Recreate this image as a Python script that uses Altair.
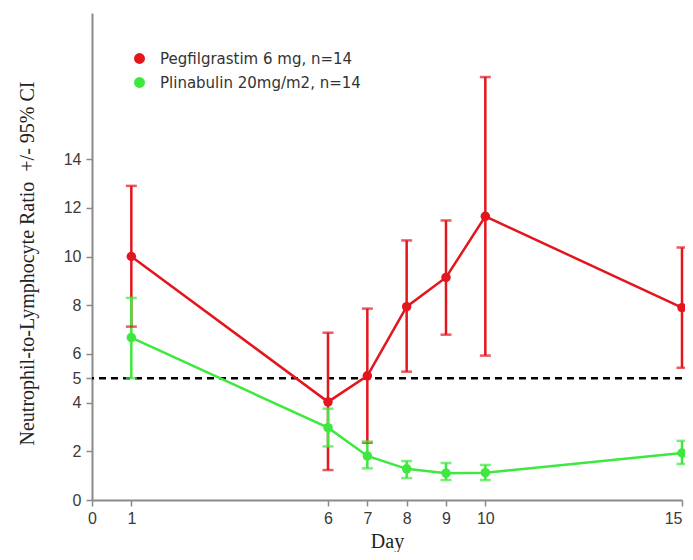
import altair as alt
import pandas as pd

days = [1, 6, 7, 8, 9, 10, 15]
groups = ["Pegfilgrastim 6 mg, n=14", "Plinabulin 20mg/m2, n=14"]
peg_mean = [10.0, 4.03, 5.1, 7.94, 9.14, 11.65, 7.9]
peg_lo = [7.12, 1.23, 2.35, 5.27, 6.79, 5.93, 5.43]
peg_hi = [12.9, 6.87, 7.86, 10.66, 11.48, 17.37, 10.37]
pli_mean = [6.67, 2.97, 1.81, 1.28, 1.1, 1.12, 1.93]
pli_lo = [5.0, 2.2, 1.3, 0.9, 0.82, 0.82, 1.48]
pli_hi = [8.3, 3.75, 2.4, 1.6, 1.52, 1.44, 2.43]
x_ticks = [0, 1, 6, 7, 8, 9, 10, 15]
y_ticks = [0, 2, 4, 5, 6, 8, 10, 12, 14]
threshold = 5
colors = ["#e3161e", "#3ee83e"]

rows = []
for g, m, lo, hi in [(groups[0], peg_mean, peg_lo, peg_hi), (groups[1], pli_mean, pli_lo, pli_hi)]:
    for d, a, b, c in zip(days, m, lo, hi):
        rows.append({"group": g, "day": d, "mean": a, "lo": b, "hi": c})
df = pd.DataFrame(rows)

xs = alt.Scale(domain=[0, 15], nice=False, zero=False)
ys = alt.Scale(domain=[0, 20], nice=False)
cs = alt.Scale(domain=groups, range=colors)

x_axis = alt.Axis(values=x_ticks, title="Day", grid=False, tickSize=6, labelPadding=4,
                  titlePadding=5,
                  labelAlign=alt.expr("datum.value == 15 ? 'right' : 'center'"))
y_axis = alt.Axis(values=y_ticks, title="Neutrophil-to-Lymphocyte Ratio\u00a0 +/- 95% CI",
                  grid=False, tickSize=6, labelPadding=5, titlePadding=26, titleY=250)

legend = alt.Legend(title=None, orient="none", legendX=40, legendY=38,
                    symbolType="circle", symbolSize=120, symbolStrokeWidth=0,
                    symbolOpacity=1, labelLimit=400,
                    labelFont="DejaVu Sans", labelFontSize=15,
                    labelColor="#333333", labelOffset=13, rowPadding=8, padding=0)
color = alt.Color("group:N", scale=cs, sort=groups, legend=legend)

base = alt.Chart(df)

err_rules = base.mark_rule(strokeWidth=2.5).encode(
    x=alt.X("day:Q", scale=xs, axis=x_axis),
    y=alt.Y("lo:Q", scale=ys, axis=y_axis),
    y2="hi:Q",
    color=color,
)
cap_lo = base.mark_tick(orient="horizontal", size=11, thickness=2.5).encode(
    x=alt.X("day:Q", scale=xs), y=alt.Y("lo:Q", scale=ys), color=color,
)
cap_hi = base.mark_tick(orient="horizontal", size=11, thickness=2.5).encode(
    x=alt.X("day:Q", scale=xs), y=alt.Y("hi:Q", scale=ys), color=color,
)
lines = base.mark_line(strokeWidth=2.5).encode(
    x=alt.X("day:Q", scale=xs), y=alt.Y("mean:Q", scale=ys), color=color,
    detail="group:N",
)
points = base.mark_circle(size=90, opacity=1).encode(
    x=alt.X("day:Q", scale=xs), y=alt.Y("mean:Q", scale=ys), color=color,
)
dash = alt.Chart(pd.DataFrame({"t": [threshold]})).mark_rule(
    color="black", strokeWidth=2.5, strokeDash=[7, 5]
).encode(y=alt.Y("t:Q", scale=ys))

chart = alt.layer(dash, err_rules, cap_lo, cap_hi, lines, points).properties(
    width=590, height=487,
    autosize=alt.AutoSizeParams(type="none"),
    padding={"left": 84, "top": 5, "right": 3, "bottom": 52},
).configure_view(stroke=None).configure_axis(
    domainColor="#8a8a8a", domainWidth=2, tickColor="#8a8a8a", tickWidth=1.5,
    labelFont="Liberation Sans", labelFontSize=16, labelColor="#3a3a3a",
    titleFont="Liberation Serif", titleFontSize=20, titleFontWeight="normal",
    titleColor="#222222",
)

chart.save("out.html", embed_options={"renderer": "svg", "actions": False})
